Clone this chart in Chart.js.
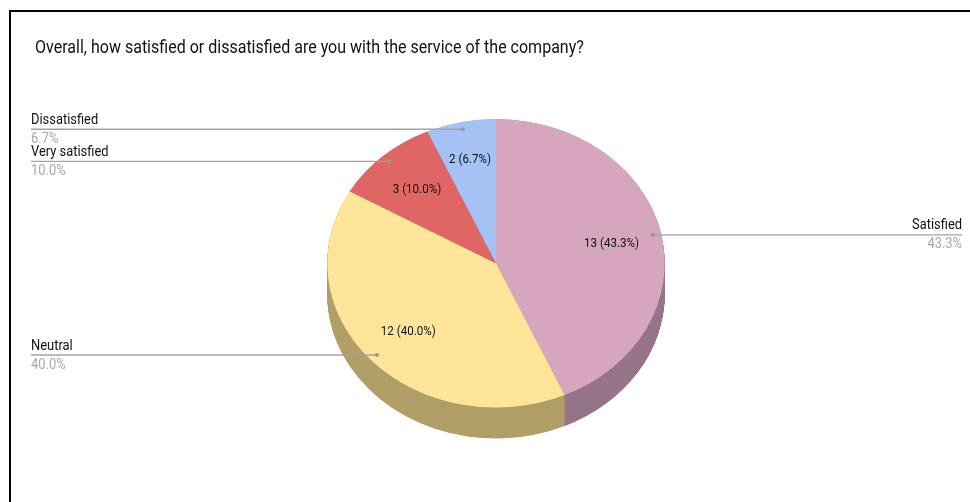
<!DOCTYPE html>
<html>
<head>
<meta charset="utf-8">
<style>
  html, body { margin: 0; padding: 0; background: #fff; overflow: hidden; }
  #frame { position: absolute; left: 9px; top: 10px; right: 0; bottom: 0; border-left: 2px solid #000; border-top: 2px solid #000; }
  canvas { position: absolute; left: 0; top: 0; }
</style>
<script src="https://cdn.jsdelivr.net/npm/chart.js@4/dist/chart.umd.js"></script>
</head>
<body>
<canvas id="satisfactionChart" width="970" height="502"></canvas>
<div id="frame"></div>
<script>
const categories = ['Satisfied', 'Neutral', 'Very satisfied', 'Dissatisfied'];
const responses = [13, 12, 3, 2];
const topColors = ['#d5a6bd', '#ffe599', '#e06666', '#a4c2f4'];
const sideColors = ['#977589', '#b19f67', '#9e4848', '#7489ac'];
const chartTitle = 'Overall, how satisfied or dissatisfied are you with the service of the company?';

const tilt = 0.855;
const depth = 31;
const squeeze = 0.89;
const total = responses.reduce((a, b) => a + b, 0);
const pct = v => (v / total * 100).toFixed(1) + '%';

function midPoint(arc, ratio) {
    const mid = (arc.startAngle + arc.endAngle) / 2;
    return {
        x: arc.x + Math.cos(mid) * arc.outerRadius * ratio,
        y: arc.y + Math.sin(mid) * arc.outerRadius * ratio * tilt
    };
}

// the reference text is narrower than Roboto, so squeeze it around its anchor
function narrowText(ctx, text, x, y) {
    ctx.save();
    ctx.translate(x, y);
    ctx.scale(squeeze, 1);
    ctx.fillText(text, 0, 0);
    ctx.restore();
}

// squash the pie into an ellipse and put the side wall under it
const tiltedPie = {
    id: 'tiltedPie',
    afterLayout(chart) {
        const block = chart.titleBlock;
        if (block.narrowed) return;
        const drawTitle = block.draw;
        block.narrowed = true;
        block.draw = function () {
            const ctx = this.ctx;
            ctx.save();
            ctx.translate(this.left, 0);
            ctx.scale(squeeze, 1);
            ctx.translate(-this.left, 0);
            drawTitle.call(this);
            ctx.restore();
        };
    },
    beforeDatasetsDraw(chart) {
        const ctx = chart.ctx;
        const arcs = chart.getDatasetMeta(0).data;
        ctx.save();
        ctx.translate(arcs[0].x, arcs[0].y);
        ctx.scale(1, tilt);
        ctx.translate(-arcs[0].x, -arcs[0].y);
        for (let d = depth / tilt; d > 0; d -= 0.5) {
            arcs.forEach((arc, i) => {
                ctx.fillStyle = sideColors[i];
                ctx.beginPath();
                ctx.moveTo(arc.x, arc.y + d);
                ctx.arc(arc.x, arc.y + d, arc.outerRadius, arc.startAngle, arc.endAngle);
                ctx.closePath();
                ctx.fill();
            });
        }
    },
    afterDatasetsDraw(chart) {
        const ctx = chart.ctx;
        ctx.restore();
        const arcs = chart.getDatasetMeta(0).data;
        arcs.forEach((arc, i) => {
            // callout
            const dot = midPoint(arc, 0.95);
            const onRight = dot.x > arc.x;
            const edge = onRight ? 962 : 31;
            ctx.strokeStyle = '#a3a3a3';
            ctx.lineWidth = 1.3;
            ctx.beginPath();
            ctx.moveTo(edge, dot.y);
            ctx.lineTo(dot.x, dot.y);
            ctx.stroke();
            ctx.fillStyle = '#999';
            ctx.beginPath();
            ctx.arc(dot.x, dot.y, 2, 0, Math.PI * 2);
            ctx.fill();

            ctx.font = '14.5px Roboto';
            ctx.textBaseline = 'middle';
            ctx.textAlign = onRight ? 'right' : 'left';
            ctx.fillStyle = '#111';
            narrowText(ctx, categories[i], edge, dot.y - 9);
            ctx.fillStyle = '#a8a8a8';
            narrowText(ctx, pct(responses[i]), edge, dot.y + 10);

            // slice label
            const inner = midPoint(arc, i === 3 ? 0.74 : 0.7);
            ctx.font = '13px Roboto';
            ctx.textAlign = 'center';
            ctx.fillStyle = '#111';
            narrowText(ctx, responses[i] + ' (' + pct(responses[i]) + ')', inner.x, inner.y + 1);
        });
    }
};

new Chart(document.getElementById('satisfactionChart'), {
    type: 'pie',
    data: {
        labels: categories,
        datasets: [{
            data: responses,
            backgroundColor: topColors,
            borderWidth: 0
        }]
    },
    options: {
        responsive: false,
        animation: false,
        layout: { padding: { left: 35, right: 13, top: 38, bottom: 70 } },
        plugins: {
            legend: { display: false },
            tooltip: { enabled: false },
            title: {
                display: true,
                text: chartTitle,
                align: 'start',
                color: '#111',
                font: { family: 'Roboto', size: 18, weight: 'normal' },
                padding: { top: 0, bottom: 35 }
            }
        }
    },
    plugins: [tiltedPie]
});
</script>
</body>
</html>
